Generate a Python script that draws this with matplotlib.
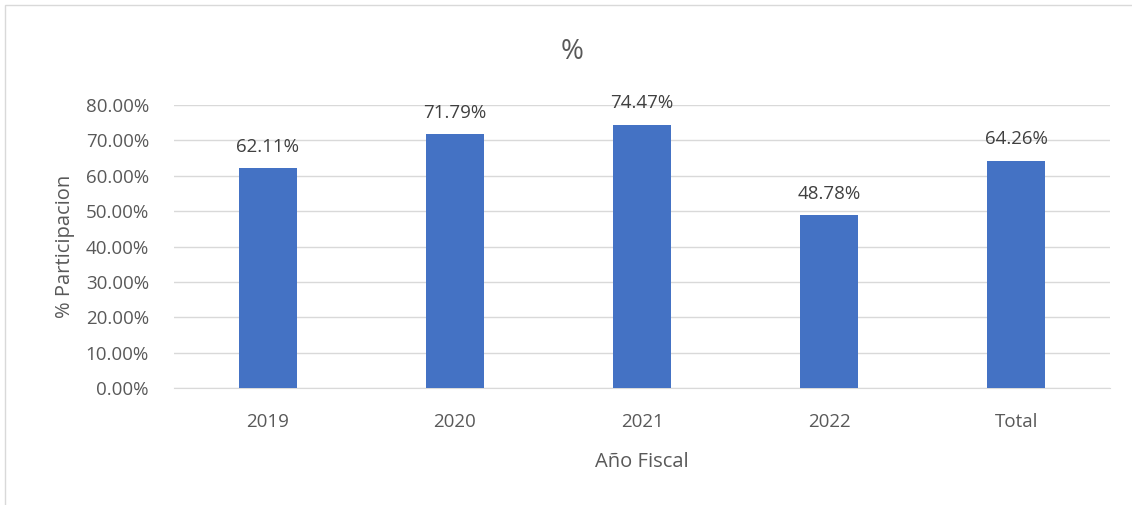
import matplotlib.pyplot as plt
from matplotlib.patches import Rectangle
from matplotlib.ticker import PercentFormatter

years = ["2019", "2020", "2021", "2022", "Total"]
share = [62.11, 71.79, 74.47, 48.78, 64.26]
yticks = [0, 10, 20, 30, 40, 50, 60, 70, 80]

plt.rcParams['font.family'] = ['Open Sans', 'DejaVu Sans']
grey = "#595959"

fig = plt.figure(figsize=(11.32, 5.05), dpi=100)
ax = fig.add_axes([0.1537, 0.2317, 0.8269, 0.5603])

x = range(len(years))
bars = ax.bar(x, share, width=0.31, color="#4472C4", zorder=3)
for b, v in zip(bars, share):
    ax.annotate(f"{v:.2f}%", (b.get_x() + b.get_width() / 2, v),
                xytext=(0, 9), textcoords="offset points",
                ha="center", va="bottom", fontsize=13.5, color="#404040")

ax.set_xlim(-0.5, len(years) - 0.5)
ax.set_ylim(0, 80)
ax.set_yticks(yticks)
ax.yaxis.set_major_formatter(PercentFormatter(decimals=2))
ax.set_xticks(list(x))
ax.set_xticklabels(years)
ax.tick_params(length=0, labelsize=13.5, labelcolor=grey)
ax.tick_params(axis="y", pad=18)
ax.tick_params(axis="x", pad=18)
ax.grid(axis="y", color="#D9D9D9", linewidth=1, zorder=0)
for s in ["top", "right", "left"]:
    ax.spines[s].set_visible(False)
ax.spines["bottom"].set_color("#D9D9D9")
ax.set_ylabel("% Participacion", fontsize=14.5, color=grey, labelpad=8)
ax.set_xlabel("Año Fiscal", fontsize=14.5, color=grey, labelpad=15)
fig.text(0.5055, 0.897, "%", ha="center", va="center", fontsize=20, color=grey)

fig.patches.append(Rectangle((5 / 1132, -0.01), 1.0, 1 - 5 / 505 + 0.01,
                             transform=fig.transFigure, fill=False,
                             edgecolor="#D9D9D9", linewidth=1))

fig.savefig("out.png", dpi=100)
